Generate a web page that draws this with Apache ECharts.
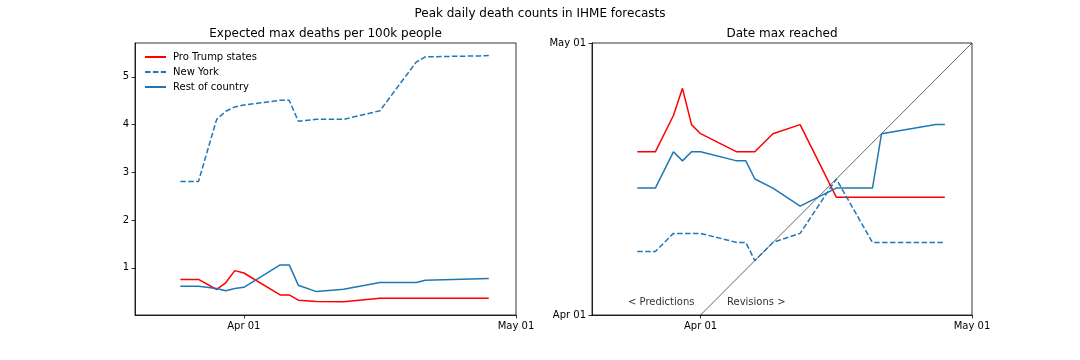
<!DOCTYPE html>
<html>
<head>
<meta charset="utf-8">
<script src="https://cdn.jsdelivr.net/npm/echarts@6/dist/echarts.min.js"></script>
<style>
html,body{margin:0;padding:0;background:#fff;}
#chart{width:1080px;height:360px;}
</style>
</head>
<body>
<div id="chart"></div>
<script>
// Forecast release dates
const dates = ['2020-03-25','2020-03-27','2020-03-29','2020-03-30','2020-03-31','2020-04-01','2020-04-05','2020-04-06','2020-04-07','2020-04-09','2020-04-12','2020-04-16','2020-04-20','2020-04-21','2020-04-27','2020-04-28'];
// Expected max deaths per 100k people
const trumpMax = [0.755,0.755,0.545,0.685,0.94,0.89,0.43,0.43,0.32,0.295,0.29,0.36,0.36,0.36,0.36,0.36];
const nyMax    = [2.81,2.81,4.11,4.28,4.37,4.41,4.51,4.51,4.07,4.11,4.11,4.29,5.31,5.42,5.44,5.45];
const restMax  = [0.61,0.61,0.565,0.52,0.565,0.59,1.06,1.06,0.635,0.50,0.55,0.69,0.69,0.74,0.77,0.775];
// Date the max is reached
const trumpDate = ['2020-04-19','2020-04-19','2020-04-23','2020-04-26','2020-04-22','2020-04-21','2020-04-19','2020-04-19','2020-04-19','2020-04-21','2020-04-22','2020-04-14','2020-04-14','2020-04-14','2020-04-14','2020-04-14'];
const nyDate    = ['2020-04-08','2020-04-08','2020-04-10','2020-04-10','2020-04-10','2020-04-10','2020-04-09','2020-04-09','2020-04-07','2020-04-09','2020-04-10','2020-04-16','2020-04-09','2020-04-09','2020-04-09','2020-04-09'];
const restDate  = ['2020-04-15','2020-04-15','2020-04-19','2020-04-18','2020-04-19','2020-04-19','2020-04-18','2020-04-18','2020-04-16','2020-04-15','2020-04-13','2020-04-15','2020-04-15','2020-04-21','2020-04-22','2020-04-22'];
// Axis limits and ticks
const xRange = ['2020-03-20','2020-05-01'];
const dateTicks = ['2020-04-01','2020-05-01'];
const yDateRange = ['2020-04-01','2020-05-01'];
const deathTicks = [1,2,3,4,5];
const deathRange = [0.01,5.71];
const seriesNames = ['Pro Trump states','New York','Rest of country'];

function ts(s){const p=s.split('-').map(Number);return Date.UTC(p[0],p[1]-1,p[2]);}
const MONTHS=['Jan','Feb','Mar','Apr','May','Jun','Jul','Aug','Sep','Oct','Nov','Dec'];
function fmtDate(v){const d=new Date(v);return MONTHS[d.getUTCMonth()]+' '+String(d.getUTCDate()).padStart(2,'0');}

const FONT='DejaVu Sans';
const RED='#ff0000', BLUE='#1f77b4';
const DASH=[5.5,2.4];

function xAxisCfg(idx){
  return {
    type:'value', gridIndex:idx, min:ts(xRange[0]), max:ts(xRange[1]),
    splitLine:{show:false},
    axisLine:{show:true,onZero:false,lineStyle:{color:'#000',width:0.8}},
    axisTick:{show:true,length:3.5,lineStyle:{color:'#000',width:0.8},customValues:dateTicks.map(ts)},
    axisLabel:{color:'#000',fontFamily:FONT,fontSize:10,margin:6,customValues:dateTicks.map(ts),formatter:fmtDate}
  };
}

const pairs=(xs,ys,f)=>xs.map((x,i)=>[ts(x),f(ys[i])]);
const id=v=>v;
const tstyle=(sz,c)=>({fontFamily:FONT,fontSize:sz,fontWeight:'normal',color:c});

const option={
  animation:false,
  backgroundColor:'#fff',
  title:[
    {text:'Peak daily death counts in IHME forecasts',left:540,textAlign:'center',top:8,padding:0,textStyle:tstyle(12,'#000')},
    {text:'Expected max deaths per 100k people',left:325.5,textAlign:'center',top:28,padding:0,textStyle:tstyle(12,'#000')},
    {text:'Date max reached',left:782,textAlign:'center',top:28,padding:0,textStyle:tstyle(12,'#000')},
    {text:'< Predictions',left:628,top:297,padding:0,textStyle:tstyle(10,'#333')},
    {text:'Revisions >',left:727,top:297,padding:0,textStyle:tstyle(10,'#333')}
  ],
  legend:{
    data:seriesNames, orient:'vertical', left:144, top:52, itemWidth:21, itemHeight:10, itemGap:5, padding:0,
    itemStyle:{opacity:0},
    textStyle:{fontFamily:FONT,fontSize:10,color:'#000',padding:[0,0,0,2]}, selectedMode:false
  },
  grid:[
    {left:135,top:43,width:381,height:272,show:true,borderColor:'#000',borderWidth:0.8,backgroundColor:'transparent'},
    {left:592,top:43,width:380,height:272,show:true,borderColor:'#000',borderWidth:0.8,backgroundColor:'transparent'}
  ],
  xAxis:[xAxisCfg(0),xAxisCfg(1)],
  yAxis:[
    {type:'value',gridIndex:0,min:deathRange[0],max:deathRange[1],splitLine:{show:false},
     axisLine:{show:true,onZero:false,lineStyle:{color:'#000',width:0.8}},
     axisTick:{show:true,length:3.5,lineStyle:{color:'#000',width:0.8},customValues:deathTicks},
     axisLabel:{color:'#000',fontFamily:FONT,fontSize:10,margin:6,customValues:deathTicks,formatter:v=>String(v)}},
    {type:'value',gridIndex:1,min:ts(yDateRange[0]),max:ts(yDateRange[1]),splitLine:{show:false},
     axisLine:{show:true,onZero:false,lineStyle:{color:'#000',width:0.8}},
     axisTick:{show:true,length:3.5,lineStyle:{color:'#000',width:0.8},customValues:dateTicks.map(ts)},
     axisLabel:{color:'#000',fontFamily:FONT,fontSize:10,margin:6,customValues:dateTicks.map(ts),formatter:fmtDate}}
  ],
  series:[
    {name:seriesNames[0],type:'line',xAxisIndex:0,yAxisIndex:0,symbol:'none',data:pairs(dates,trumpMax,id),lineStyle:{color:RED,width:1.5},itemStyle:{color:RED}},
    {name:seriesNames[1],type:'line',xAxisIndex:0,yAxisIndex:0,symbol:'none',data:pairs(dates,nyMax,id),lineStyle:{color:BLUE,width:1.5,type:DASH},itemStyle:{color:BLUE}},
    {name:seriesNames[2],type:'line',xAxisIndex:0,yAxisIndex:0,symbol:'none',data:pairs(dates,restMax,id),lineStyle:{color:BLUE,width:1.5},itemStyle:{color:BLUE}},
    {name:'diagonal',type:'line',xAxisIndex:1,yAxisIndex:1,symbol:'none',data:yDateRange.map(d=>[ts(d),ts(d)]),lineStyle:{color:'#000',width:0.6},silent:true,z:1},
    {name:seriesNames[0],type:'line',xAxisIndex:1,yAxisIndex:1,symbol:'none',data:pairs(dates,trumpDate,ts),lineStyle:{color:RED,width:1.5},itemStyle:{color:RED}},
    {name:seriesNames[1],type:'line',xAxisIndex:1,yAxisIndex:1,symbol:'none',data:pairs(dates,nyDate,ts),lineStyle:{color:BLUE,width:1.5,type:DASH},itemStyle:{color:BLUE}},
    {name:seriesNames[2],type:'line',xAxisIndex:1,yAxisIndex:1,symbol:'none',data:pairs(dates,restDate,ts),lineStyle:{color:BLUE,width:1.5},itemStyle:{color:BLUE}}
  ]
};
const chart=echarts.init(document.getElementById('chart'),null,{renderer:'canvas'});
chart.setOption(option);
</script>
</body>
</html>
